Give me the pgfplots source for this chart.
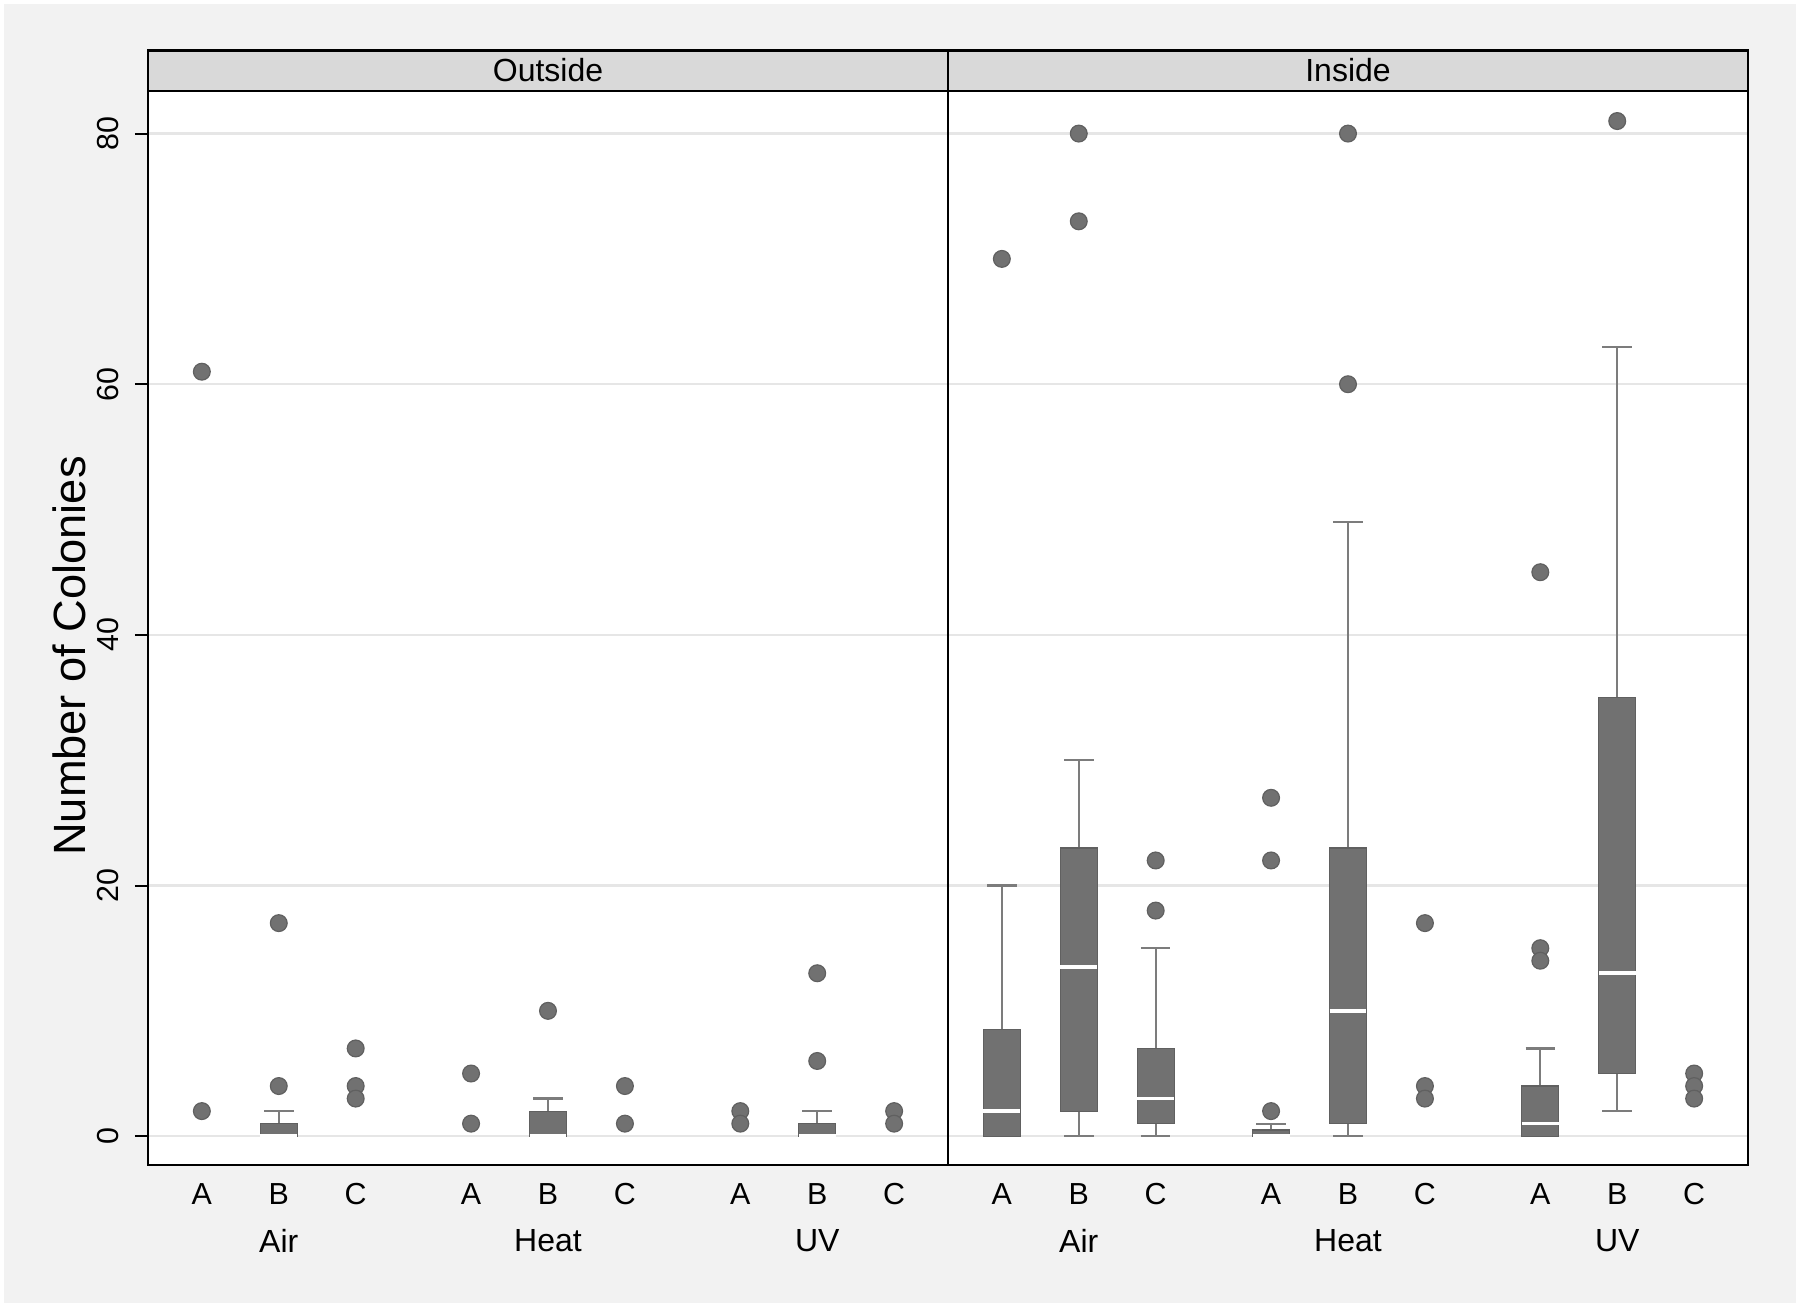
\documentclass[border=0pt]{standalone}
\usepackage{pgfplots}
\pgfplotsset{compat=1.18}
\usepgfplotslibrary{statistics}
\usepackage{fontspec}
\setmainfont{Liberation Sans}
\definecolor{bggray}{HTML}{F2F2F2}
\definecolor{stripgray}{HTML}{D9D9D9}
\definecolor{boxgray}{HTML}{717171}
\definecolor{whisk}{HTML}{7C7C7C}
\definecolor{gridc}{HTML}{E6E6E6}
\newcommand{\ticksize}{\fontsize{7.6}{8}\selectfont}
\newcommand{\grpsize}{\fontsize{8}{9}\selectfont}

\pgfplotsset{
  panel/.style={
    anchor=south west,
    width=200pt, height=268.5pt, scale only axis,
    xmin=0.3, xmax=10.7, ymin=-2.3, ymax=83.4,
    axis background/.style={fill=white},
    axis line style={black, line width=0.6pt},
    xtick={1,2,3,4.5,5.5,6.5,8,9,10},
    xticklabels={A,B,C,A,B,C,A,B,C},
    x tick style={draw=none},
    ytick={0,20,40,60,80},
    ymajorgrids, grid style={gridc, line width=0.6pt},
    clip=false,
    /pgf/number format/assume math mode=true,
    boxplot/draw direction=y,
    boxplot/every box/.style={fill=boxgray, draw=boxgray!85!black, line width=0.3pt},
    boxplot/every whisker/.style={whisk, line width=0.55pt},
    boxplot/every median/.style={white, line width=0.9pt},
    pts/.style={only marks, mark=*, mark size=2.1pt, mark options={fill=boxgray, draw=boxgray!85!black, line width=0.3pt}},
  },
  bx/.style n args={5}{boxplot prepared={draw position=#1, lower whisker=#2, lower quartile=#3, median=#4, upper quartile=#5, box extend=0.48}, boxplot/draw direction=y},
}

\begin{document}
\begin{tikzpicture}[x=1pt,y=1pt]
\useasboundingbox (0,0) rectangle (450,326.75);
\fill[white] (0,0) rectangle (450,326.75);
\fill[bggray] (1,1) rectangle (449,325.75);

% ---------------- Outside ----------------
\begin{axis}[panel, at={(37pt,35.5pt)},
  xticklabel style={font=\ticksize, anchor=center, yshift=-3.95pt},
  yticklabel style={font=\ticksize, xshift=-6.6pt, rotate=90, anchor=center},
  y tick style={black, line width=0.5pt}, major tick length=3.3pt, tick align=outside,
  yticklabels={0,20,40,60,80}]
  \addplot[boxplot prepared={draw position=2, lower whisker=0, lower quartile=0, median=0, upper quartile=1, upper whisker=2, box extend=0.48}] coordinates {};
  \addplot[boxplot prepared={draw position=5.5, lower whisker=0, lower quartile=0, median=0, upper quartile=2, upper whisker=3, box extend=0.48}] coordinates {};
  \addplot[boxplot prepared={draw position=9, lower whisker=0, lower quartile=0, median=0, upper quartile=1, upper whisker=2, box extend=0.48}] coordinates {};
  \addplot[pts] coordinates {
    (1,61) (1,2)
    (2,17) (2,4)
    (3,7) (3,4) (3,3)
    (4.5,5) (4.5,1)
    (5.5,10)
    (6.5,4) (6.5,1)
    (8,2) (8,1)
    (9,13) (9,6)
    (10,2) (10,1)
  };
  \node[font=\grpsize] at (axis cs:2,-2.3) [yshift=-19pt] {Air};
  \node[font=\grpsize] at (axis cs:5.5,-2.3) [yshift=-19pt] {Heat};
  \node[font=\grpsize] at (axis cs:9,-2.3) [yshift=-19pt] {UV};
\end{axis}

% ---------------- Inside ----------------
\begin{axis}[panel, at={(237pt,35.5pt)},
  xticklabel style={font=\ticksize, anchor=center, yshift=-7.25pt},
  yticklabels={}, y tick style={draw=none}]
  \addplot[boxplot prepared={draw position=1, lower whisker=0, lower quartile=0, median=2, upper quartile=8.5, upper whisker=20, box extend=0.48}] coordinates {};
  \addplot[boxplot prepared={draw position=2, lower whisker=0, lower quartile=2, median=13.5, upper quartile=23, upper whisker=30, box extend=0.48}] coordinates {};
  \addplot[boxplot prepared={draw position=3, lower whisker=0, lower quartile=1, median=3, upper quartile=7, upper whisker=15, box extend=0.48}] coordinates {};
  \addplot[boxplot prepared={draw position=4.5, lower whisker=0, lower quartile=0, median=0, upper quartile=0.5, upper whisker=1, box extend=0.48}] coordinates {};
  \addplot[boxplot prepared={draw position=5.5, lower whisker=0, lower quartile=1, median=10, upper quartile=23, upper whisker=49, box extend=0.48}] coordinates {};
  \addplot[boxplot prepared={draw position=8, lower whisker=0, lower quartile=0, median=1, upper quartile=4, upper whisker=7, box extend=0.48}] coordinates {};
  \addplot[boxplot prepared={draw position=9, lower whisker=2, lower quartile=5, median=13, upper quartile=35, upper whisker=63, box extend=0.48}] coordinates {};
  \addplot[pts] coordinates {
    (1,70)
    (2,80) (2,73)
    (3,22) (3,18)
    (4.5,27) (4.5,22) (4.5,2)
    (5.5,80) (5.5,60)
    (6.5,17) (6.5,4) (6.5,3)
    (8,45) (8,15) (8,14)
    (9,81)
    (10,5) (10,4) (10,3)
  };
  \node[font=\grpsize] at (axis cs:2,-2.3) [yshift=-19pt] {Air};
  \node[font=\grpsize] at (axis cs:5.5,-2.3) [yshift=-19pt] {Heat};
  \node[font=\grpsize] at (axis cs:9,-2.3) [yshift=-19pt] {UV};
\end{axis}

% strips
\draw[black, line width=0.6pt, fill=stripgray] (37,304) rectangle (237,314.1);
\draw[black, line width=0.6pt, fill=stripgray] (237,304) rectangle (437,314.1);
\node[font=\grpsize] at (137,309.2) {Outside};
\node[font=\grpsize] at (337,309.2) {Inside};

% y label
\node[font=\fontsize{11.3}{13}\selectfont, rotate=90] at (17.25,162.75) {Number of Colonies};
\end{tikzpicture}
\end{document}
